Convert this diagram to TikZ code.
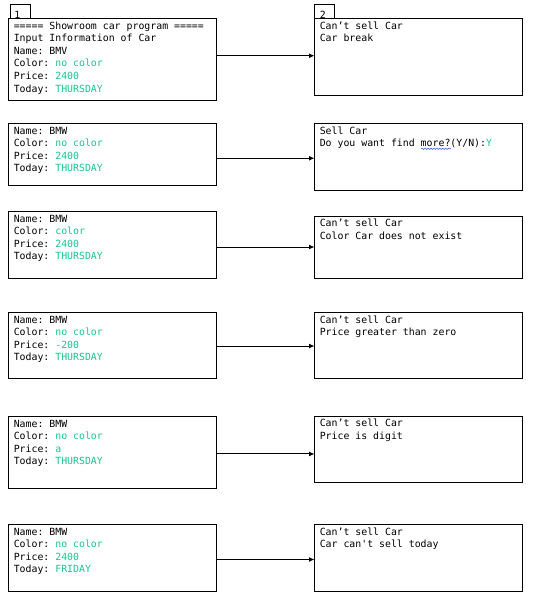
\documentclass[tikz,border=0pt]{standalone}
\usepackage{fontspec}
\setmonofont{DejaVu Sans Mono}
\usetikzlibrary{arrows.meta,decorations.pathmorphing}
\definecolor{valgreen}{RGB}{20,200,140}
\definecolor{spellblue}{RGB}{70,110,220}
\newcommand\gv[1]{\textcolor{valgreen}{#1}}
\newcommand\fs{\rule{0pt}{7.7pt}}
\begin{document}
\begin{tikzpicture}[x=0.75pt,y=-0.75pt,
  box/.style={draw=black,line width=0.75pt,anchor=north west,inner sep=0pt,outer sep=0pt},
  txt/.style={anchor=north west,inner sep=0pt,align=left,font=\ttfamily\fontsize{7.4}{9.45}\selectfont},
  tabnum/.style={anchor=base west,inner sep=0pt,font=\ttfamily\fontsize{7.4}{9.45}\selectfont},
  arr/.style={line width=0.75pt,-{Latex[length=4pt,width=3.6pt]}}]
\useasboundingbox (0,0) rectangle (535,599);
% tabs
\node[box,minimum width=20.5*0.75pt,minimum height=14*0.75pt] (T1) at (10,4.5) {};
\node[box,minimum width=20*0.75pt,minimum height=14*0.75pt] (T2) at (314.5,4.5) {};
% boxes
\node[box,minimum width=208*0.75pt,minimum height=82.5*0.75pt] (L1) at (8.5,18.5) {};
\node[box,minimum width=207.5*0.75pt,minimum height=77.5*0.75pt] (R1) at (314.5,18.5) {};
\node[box,minimum width=208*0.75pt,minimum height=61.5*0.75pt] (L2) at (8.5,123.5) {};
\node[box,minimum width=207.5*0.75pt,minimum height=66.5*0.75pt] (R2) at (314.5,123.5) {};
\node[box,minimum width=208*0.75pt,minimum height=67*0.75pt] (L3) at (8.5,211.5) {};
\node[box,minimum width=207.5*0.75pt,minimum height=62.5*0.75pt] (R3) at (314.5,216) {};
\node[box,minimum width=208*0.75pt,minimum height=66*0.75pt] (L4) at (8.5,312.5) {};
\node[box,minimum width=207.5*0.75pt,minimum height=66*0.75pt] (R4) at (314.5,312.5) {};
\node[box,minimum width=208*0.75pt,minimum height=72*0.75pt] (L5) at (8.5,416.5) {};
\node[box,minimum width=207.5*0.75pt,minimum height=66.5*0.75pt] (R5) at (314.5,416) {};
\node[box,minimum width=208*0.75pt,minimum height=66.5*0.75pt] (L6) at (8.5,524.5) {};
\node[box,minimum width=207.5*0.75pt,minimum height=66.5*0.75pt] (R6) at (314.5,524.5) {};
% tab numbers
\node[tabnum] (T1n) at (14,18.3) {1};
\node[tabnum] (T2n) at (319.5,18.3) {2};
% texts
\node[txt] (L1t) at ([xshift=3.75pt]L1.north west) {\fs===== Showroom car program =====\\Input Information of Car\\Name: BMV\\Color: \gv{no color}\\Price: \gv{2400}\\Today: \gv{THURSDAY}};
\node[txt] (R1t) at ([xshift=3.75pt]R1.north west) {\fs Can’t sell Car\\Car break};
\node[txt] (L2t) at ([xshift=3.75pt]L2.north west) {\fs Name: BMW\\Color: \gv{no color}\\Price: \gv{2400}\\Today: \gv{THURSDAY}};
\node[txt] (R2t) at ([xshift=3.75pt]R2.north west) {\fs Sell Car\\Do you want find more?(Y/N):\gv{Y}};
\node[txt] (L3t) at ([xshift=3.75pt]L3.north west) {\fs Name: BMW\\Color: \gv{color}\\Price: \gv{2400}\\Today: \gv{THURSDAY}};
\node[txt] (R3t) at ([xshift=3.75pt]R3.north west) {\fs Can’t sell Car\\Color Car does not exist};
\node[txt] (L4t) at ([xshift=3.75pt]L4.north west) {\fs Name: BMW\\Color: \gv{no color}\\Price: \gv{-200}\\Today: \gv{THURSDAY}};
\node[txt] (R4t) at ([xshift=3.75pt]R4.north west) {\fs Can’t sell Car\\Price greater than zero};
\node[txt] (L5t) at ([xshift=3.75pt]L5.north west) {\fs Name: BMW\\Color: \gv{no color}\\Price: \gv{a}\\Today: \gv{THURSDAY}};
\node[txt] (R5t) at ([xshift=3.75pt]R5.north west) {\fs Can’t sell Car\\Price is digit};
\node[txt] (L6t) at ([xshift=3.75pt]L6.north west) {\fs Name: BMW\\Color: \gv{no color}\\Price: \gv{2400}\\Today: \gv{FRIDAY}};
\node[txt] (R6t) at ([xshift=3.75pt]R6.north west) {\fs Can’t sell Car\\Car can't sell today};
% spell-check underline under "more?"
\draw[spellblue,line width=0.5pt,decorate,decoration={snake,amplitude=0.45pt,segment length=2.2pt}]
  ([xshift=76.3pt,yshift=-19pt]R2t.north west) -- ([xshift=98.5pt,yshift=-19pt]R2t.north west);
% arrows
\draw[arr] ([yshift=3pt]L1.east) -- ([yshift=3pt]L1.east -| R1.west);
\draw[arr] ([yshift=-3pt]L2.east) -- ([yshift=-3pt]L2.east -| R2.west);
\draw[arr] ([yshift=-1.5pt]L3.east) -- ([yshift=-1.5pt]L3.east -| R3.west);
\draw[arr] ([yshift=-0.4pt]L4.east) -- ([yshift=-0.4pt]L4.east -| R4.west);
\draw[arr] ([yshift=-1.1pt]L5.east) -- ([yshift=-1.1pt]L5.east -| R5.west);
\draw[arr] ([yshift=-1.3pt]L6.east) -- ([yshift=-1.3pt]L6.east -| R6.west);
\end{tikzpicture}
\end{document}
